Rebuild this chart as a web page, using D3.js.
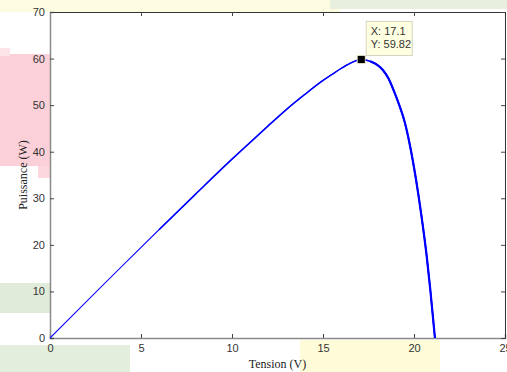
<!DOCTYPE html>
<html><head><meta charset="utf-8">
<script src="https://cdn.jsdelivr.net/npm/d3@7"></script>
<style>html,body{margin:0;padding:0;background:#fff;overflow:hidden}</style>
</head><body>
<svg id="chart" width="507" height="372"></svg>
<script>
// Data (P-V curve)
const tension = [0, 2, 4, 6, 8, 10, 11, 12, 13, 14, 15, 15.5, 16, 16.5, 17.1, 17.6, 18.0, 18.3, 18.6, 18.9, 19.2, 19.5, 19.8, 20.1, 20.4, 20.7, 20.9, 21.15];
const puissance = [0, 7.8, 15.6, 23.3, 30.9, 38.4, 42.0, 45.6, 49.1, 52.3, 55.3, 56.6, 57.9, 59.0, 59.82, 59.4, 58.6, 57.5, 55.7, 53.0, 49.9, 46.2, 40.9, 34.3, 26.5, 17.5, 10.2, 0];
const xTicks = [0, 5, 10, 15, 20, 25];
const yTicks = [0, 10, 20, 30, 40, 50, 60, 70];
const dataTip = {x: 17.1, y: 59.82};

const svg = d3.select("#chart");
const W = 507, H = 372;
const m = {left: 50, right: 2, top: 12, bottom: 34};

// faint watermark-like background patches
const patches = [
  {x:0,y:0,w:340,h:12,c:"#fdfbe0"},
  {x:330,y:0,w:177,h:9,c:"#e8efdf"},
  {x:0,y:54,w:50,h:112,c:"#fcd0d8"},
  {x:0,y:48,w:10,h:8,c:"#fde4e8"},
  {x:38,y:166,w:12,h:12,c:"#fcd8de"},
  {x:0,y:283,w:50,h:30,c:"#e0ecd9"},
  {x:0,y:345,w:130,h:27,c:"#e3eedd"},
  {x:300,y:340,w:140,h:32,c:"#fefbd8"}
];
svg.selectAll("rect.bg").data(patches).join("rect").attr("class","bg")
  .attr("x",d=>d.x).attr("y",d=>d.y).attr("width",d=>d.w).attr("height",d=>d.h)
  .attr("fill",d=>d.c);

const x = d3.scaleLinear().domain([0,25]).range([m.left, W - m.right]);
const y = d3.scaleLinear().domain([0,70]).range([H - m.bottom, m.top]);

// plot area
svg.append("rect").attr("x",x(0)).attr("y",y(70)).attr("width",x(25)-x(0)).attr("height",y(0)-y(70)).attr("fill","#fff");

const font = "Liberation Sans, Arial, sans-serif";
// bottom axis
const xb = svg.append("g").attr("transform",`translate(0,${y(0)})`)
  .call(d3.axisBottom(x).tickValues(xTicks).tickSize(-4).tickPadding(6).tickFormat(d3.format("d")));
// top axis
const xt = svg.append("g").attr("transform",`translate(0,${y(70)})`)
  .call(d3.axisTop(x).tickValues(xTicks).tickSize(-4).tickFormat(""));
// left axis
const yl = svg.append("g").attr("transform",`translate(${x(0)},0)`)
  .call(d3.axisLeft(y).tickValues(yTicks).tickSize(-4).tickPadding(5).tickFormat(d3.format("d")));
// right axis
const yr = svg.append("g").attr("transform",`translate(${x(25)},0)`)
  .call(d3.axisRight(y).tickValues(yTicks).tickSize(-4).tickFormat(""));

[xb,xt,yl,yr].forEach(g=>{
  g.selectAll("text").attr("fill","#333").style("font-family",font).style("font-size","11px");
  g.selectAll("line").attr("stroke","#444");
});
xb.select(".domain").attr("stroke","#8a8a8a").attr("stroke-width",1.5);
yl.select(".domain").attr("stroke","#8a8a8a").attr("stroke-width",1.5);
xt.select(".domain").attr("stroke","#333");
yr.select(".domain").attr("stroke","#333");

// curve
const pts = tension.map((v,i)=>({v, p: puissance[i]}));
const line = d3.line().x(d=>x(d.v)).y(d=>y(d.p)).curve(d3.curveMonotoneX);
svg.append("path").datum(pts).attr("d",line).attr("fill","none").attr("stroke","#1010ff").attr("stroke-width",1.1);
svg.append("path").datum(pts.filter(d=>d.v>=6)).attr("d",line).attr("fill","none").attr("stroke","#0000ff").attr("stroke-width",1.5);
svg.append("path").datum(pts.filter(d=>d.v>=17.6)).attr("d",line).attr("fill","none").attr("stroke","#0000ff").attr("stroke-width",2.2);

// data tip
const mx = x(dataTip.x), my = y(dataTip.y);
svg.append("rect").attr("x",mx-4).attr("y",my-4).attr("width",8).attr("height",8)
  .attr("fill","#000").attr("stroke","#f2efc8").attr("stroke-width",0.8);
const tip = svg.append("g").attr("transform",`translate(${mx+5},${my-38})`);
tip.append("rect").attr("x",0).attr("y",0).attr("width",46).attr("height",34)
  .attr("fill","#ffffe1").attr("stroke","#d6d4c0");
tip.append("text").attr("x",4.5).attr("y",14).text("X: " + dataTip.x)
  .attr("fill","#333").style("font-family",font).style("font-size","11px");
tip.append("text").attr("x",4.5).attr("y",27).text("Y: " + dataTip.y)
  .attr("fill","#333").style("font-family",font).style("font-size","11px");

// axis titles
svg.append("text").attr("x",(x(0)+x(25))/2).attr("y",368).attr("text-anchor","middle")
  .text("Tension (V)").attr("fill","#222").style("font-family","Liberation Serif, Times New Roman, serif").style("font-size","12px");
svg.append("text").attr("transform",`translate(27,${(y(0)+y(70))/2}) rotate(-90)`).attr("text-anchor","middle")
  .text("Puissance (W)").attr("fill","#222").style("font-family","Liberation Serif, Times New Roman, serif").style("font-size","12px");
</script>
</body></html>
